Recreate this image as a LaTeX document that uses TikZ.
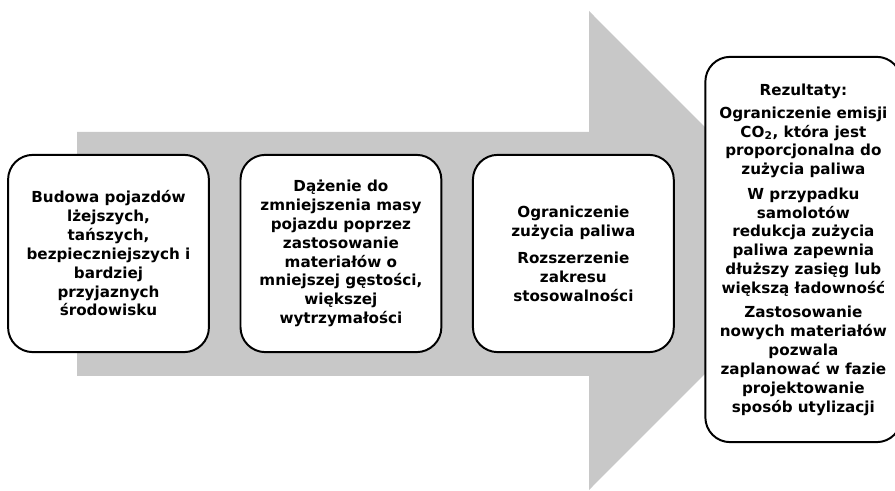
\documentclass[tikz,border=0pt]{standalone}
\usepackage{fontspec}
\setmainfont{DejaVu Sans}
\usetikzlibrary{positioning}
\definecolor{arrowgrey}{RGB}{200,200,200}

\begin{document}
\begin{tikzpicture}[
      x=0.025cm, y=-0.025cm,
      node distance=0.74cm,
      stage/.style={draw, line width=1.4pt, fill=white, rounded corners=0.62cm, align=center,
        font=\bfseries\fontsize{10.8}{13.4}\selectfont, minimum width=5.02cm, minimum height=4.93cm, inner sep=2pt},
      result/.style={stage, minimum width=4.9cm, minimum height=9.63cm},
    ]
      \useasboundingbox (0,0) rectangle (895,491);
      % big grey arrow behind the boxes
      \fill[arrowgrey] (77,132) -- (589,132) -- (589,11) -- (828,250.5)
        -- (589,490) -- (589,376) -- (77,376) -- cycle;
      \node[stage] (build) at (108.5,253.5) {Budowa pojazdów\\ lżejszych,\\ tańszych,\\ bezpieczniejszych i\\ bardziej\\ przyjaznych\\ środowisku};
      \node[stage, right = of build] (mass) {Dążenie do\\ zmniejszenia masy\\ pojazdu poprzez\\ zastosowanie\\ materiałów o\\ mniejszej gęstości,\\ większej\\ wytrzymałości};
      \node[stage, right = of mass] (fuel) {Ograniczenie\\ zużycia paliwa\\[6pt] Rozszerzenie\\ zakresu\\ stosowalności};
      \node[result, right = of fuel, yshift=0.1cm] (results) {Rezultaty:\\[3pt]
        Ograniczenie emisji\\ CO\textsubscript{2}, która jest\\ proporcjonalna do\\ zużycia paliwa\\[4pt]
        W przypadku\\ samolotów\\ redukcja zużycia\\ paliwa zapewnia\\ dłuższy zasięg lub\\ większą ładowność\\[4pt]
        Zastosowanie\\ nowych materiałów\\ pozwala\\ zaplanować w fazie\\ projektowanie\\ sposób utylizacji};
\end{tikzpicture}
\end{document}
